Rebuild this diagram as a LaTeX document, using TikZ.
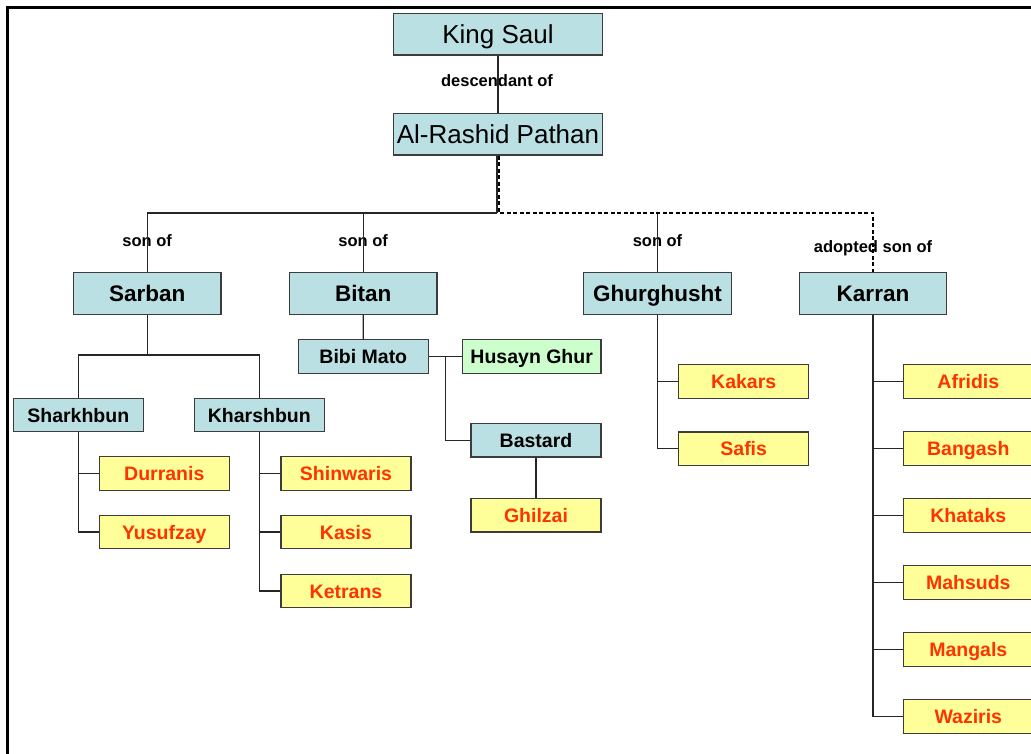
\documentclass[tikz,border=0pt]{standalone}
\usepackage{fontspec}
\setmainfont{Liberation Sans}
\definecolor{boxblue}{RGB}{187,224,227}
\definecolor{boxyellow}{RGB}{255,255,153}
\definecolor{boxgreen}{RGB}{204,255,204}
\definecolor{tribered}{RGB}{255,51,0}
\definecolor{edgegray}{RGB}{60,60,60}
\begin{document}
\begin{tikzpicture}[x=1pt,y=-1pt,
  base/.style={draw=edgegray,line width=1.2pt,inner sep=0pt,text depth=0pt,anchor=center},
  topbox/.style={base,fill=boxblue,minimum width=209pt,minimum height=41.5pt,text height=18.7pt,font=\fontsize{26}{30}\selectfont},
  midbox/.style={base,fill=boxblue,minimum width=147.5pt,minimum height=41.5pt,text height=16.2pt,font=\bfseries\fontsize{22.5}{26}\selectfont},
  smallbox/.style={base,fill=boxblue,minimum width=130pt,minimum height=33.5pt,text height=14pt,font=\bfseries\fontsize{19.5}{22}\selectfont},
  greenbox/.style={smallbox,fill=boxgreen,minimum width=138.5pt},
  tribe/.style={smallbox,fill=boxyellow,text=tribered},
  lbl/.style={inner sep=0pt,font=\bfseries\fontsize{16.5}{20}\selectfont},
  conn/.style={draw=black!85,line width=1.3pt},
  adopt/.style={draw=black,line width=2pt,dash pattern=on 4pt off 2.5pt}
]
\useasboundingbox (0,0) rectangle (1031,753);
% frame
\draw[line width=3pt,line cap=rect] (7.5,753) -- (7.5,7.5) -- (1031,7.5);

% nodes
\node[topbox] (ks) at (498,34.2) {King Saul};
\node[topbox] (ar) at (498,134.2) {Al-Rashid Pathan};
\node[midbox] (sarban) at (147.2,293.6) {Sarban};
\node[midbox] (bitan) at (363.2,293.6) {Bitan};
\node[midbox] (ghur) at (657.5,293.6) {Ghurghusht};
\node[midbox] (karran) at (873,293.6) {Karran};

\node[smallbox] (shark) at (78.3,415) {Sharkhbun};
\node[smallbox] (khar) at (259.3,415) {Kharshbun};
\node[tribe] (durr) at (164.3,473.4) {Durranis};
\node[tribe] (yusuf) at (164.3,532) {Yusufzay};
\node[tribe] (shin) at (346,473.4) {Shinwaris};
\node[tribe] (kasis) at (346,532) {Kasis};
\node[tribe] (ketr) at (346,591) {Ketrans};

\node[smallbox] (bibi) at (363.3,356.4) {Bibi Mato};
\node[greenbox] (husayn) at (531.7,356.4) {Husayn Ghur};
\node[smallbox] (bastard) at (536,440.2) {Bastard};
\node[tribe] (ghilzai) at (536,515.3) {Ghilzai};

\node[tribe] (kakars) at (743.7,381.4) {Kakars};
\node[tribe] (safis) at (743.7,448.7) {Safis};

\node[tribe] (afridis) at (968.3,381.4) {Afridis};
\node[tribe] (bangash) at (968.3,448.5) {Bangash};
\node[tribe] (khataks) at (968.3,515.5) {Khataks};
\node[tribe] (mahsuds) at (968.3,582.5) {Mahsuds};
\node[tribe] (mangals) at (968.3,649.5) {Mangals};
\node[tribe] (waziris) at (968.3,716.5) {Waziris};

% labels
\node[lbl] (ldesc) at (497,81) {descendant of};
\node[lbl] (l1) at (147.2,241) {son of};
\node[lbl] (l2) at (363.2,241) {son of};
\node[lbl] (l3) at (657.5,241) {son of};
\node[lbl] (l4) at (873,248.5) {adopted son of};

% connectors
\draw[conn] (ks.south) -- (ar.north);
\coordinate (hj) at (497,213);
\draw[conn] (ar.south -| hj) -- (hj);
\draw[conn] (hj) -| (sarban.north);
\draw[conn] (hj) -| (bitan.north);
\draw[conn] (ghur.north |- hj) -- (ghur.north);
\draw[adopt] ([xshift=1.8pt]ar.south -| hj) |- ([yshift=0.5pt]karran.north |- hj) -- (karran.north);

% Sarban branch
\coordinate (sj) at (147.2,355);
\draw[conn] (sarban.south) -- (sj);
\draw[conn] (sj) -| (shark.north);
\draw[conn] (sj) -| (khar.north);
\draw[conn] (shark.south) |- (durr.west);
\draw[conn] (shark.south) |- (yusuf.west);
\draw[conn] (khar.south) |- (shin.west);
\draw[conn] (khar.south) |- (kasis.west);
\draw[conn] (khar.south) |- (ketr.west);

% Bitan branch
\draw[conn] (bitan.south) -- (bibi.north);
\draw[conn] (bibi.east) -- (husayn.west);
\coordinate (bj) at (445.7,356.4);
\draw[conn] (bj) |- (bastard.west);
\draw[conn] (bastard.south) -- (ghilzai.north);

% Ghurghusht branch
\draw[conn] (ghur.south) |- (kakars.west);
\draw[conn] (ghur.south) |- (safis.west);

% Karran branch
\draw[conn] (karran.south) |- (afridis.west);
\draw[conn] (karran.south) |- (bangash.west);
\draw[conn] (karran.south) |- (khataks.west);
\draw[conn] (karran.south) |- (mahsuds.west);
\draw[conn] (karran.south) |- (mangals.west);
\draw[conn] (karran.south) |- (waziris.west);
\end{tikzpicture}
\end{document}
